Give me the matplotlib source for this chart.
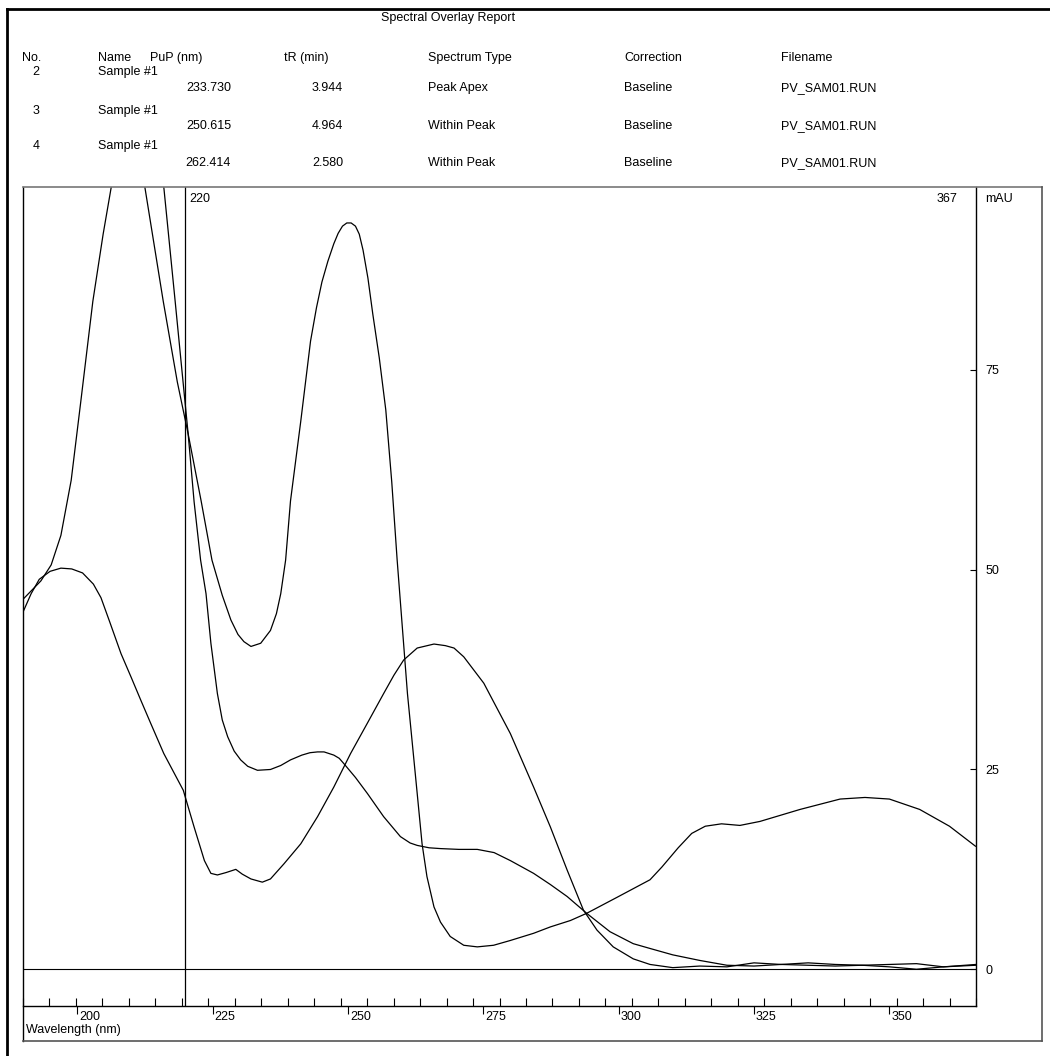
import numpy as np
import matplotlib.pyplot as plt
from matplotlib.lines import Line2D

plt.rcParams['font.family'] = ['Liberation Sans', 'DejaVu Sans']

# spectrum 2 (peak apex)
wl_2 = [190, 193.3, 195.2, 197.0, 198.9, 200.7, 202.9, 204.8, 206.3, 207.8, 209.4, 211.0, 212.5, 215.9,
        218.5, 220.5, 222.9, 224.9, 226.8, 228.4, 229.7, 230.8, 232.1, 233.9, 235.7, 236.8, 237.6, 238.5,
        239.4, 241.3, 243.1, 244.2, 245.2, 246.3, 247.4, 248.2, 249.0, 249.8, 250.6, 251.4, 252.1, 252.8,
        253.7, 254.6, 255.8, 257.0, 258.1, 259.1, 261.0, 262.8, 263.7, 264.6, 265.9, 267.1, 268.9, 271.4,
        273.9, 276.9, 280.0, 284.3, 287.4, 291.1, 294.1, 299.7, 305.8, 308.0, 311.0, 313.5, 316.0, 319.0,
        322.4, 326.1, 333.5, 340.9, 345.5, 350.0, 355.6, 361.1, 365.9]
mau_2 = [46.3, 48.6, 50.6, 54.3, 61.2, 71.2, 83.6, 92.0, 97.9, 102.5, 104.5, 102.5, 97.9, 83.6,
         73.5, 67.0, 58.6, 51.2, 46.8, 43.7, 41.9, 41.0, 40.4, 40.8, 42.4, 44.5, 47.0, 51.2,
         58.6, 68.6, 78.6, 82.8, 86.0, 88.6, 90.8, 92.1, 93.0, 93.4, 93.4, 93.0, 92.0, 90.0,
         86.5, 82.0, 76.5, 70.0, 61.0, 51.2, 34.5, 22.0, 15.7, 11.6, 7.8, 5.9, 4.1, 3.0,
         2.8, 3.0, 3.6, 4.5, 5.3, 6.1, 7.0, 9.0, 11.2, 12.8, 15.2, 17.0, 17.9, 18.2,
         18.0, 18.5, 20.0, 21.3, 21.5, 21.3, 20.0, 17.9, 15.4]

# spectrum 3
wl_3 = [190, 200, 207, 212, 216.0, 218.1, 220.5, 221.6, 222.8, 223.8, 224.7, 225.9, 226.8, 227.8, 229.0,
        230.2, 231.5, 233.3, 235.7, 237.6, 239.4, 241.5, 243.0, 244.4, 245.6, 247.4, 248.4, 249.3, 251.4,
        253.6, 256.6, 259.7, 261.5, 262.8, 265.0, 267.1, 270.5, 273.9, 277.0, 280.0, 284.3, 287.4, 290.5,
        294.1, 298.4, 302.7, 305.8, 310, 315, 320, 325, 330, 335, 340, 345, 350, 355, 360, 366]
mau_3 = [260, 200, 150, 118, 97.9, 83.6, 67.0, 58.5, 51.2, 47.0, 40.8, 34.5, 31.2, 29.1, 27.3,
         26.2, 25.4, 24.9, 25.0, 25.5, 26.2, 26.8, 27.1, 27.2, 27.2, 26.8, 26.4, 25.7, 24.0,
         22.0, 19.1, 16.6, 15.8, 15.5, 15.2, 15.1, 15.0, 15.0, 14.6, 13.6, 12.0, 10.6, 9.1,
         7.0, 4.7, 3.2, 2.6, 1.8, 1.1, 0.5, 0.4, 0.6, 0.8, 0.6, 0.5, 0.3, 0.0, 0.3, 0.6]

# spectrum 4
wl_4 = [190, 191.5, 193.0, 195.0, 197.0, 199.0, 201.0, 203.0, 204.4, 206.0, 208.1, 210.0, 211.8, 213.6,
        216.0, 219.6, 221.6, 223.5, 224.7, 225.9, 227.5, 229.3, 230.5, 232.1, 234.2, 235.7, 238.2, 241.3,
        244.4, 247.4, 250.5, 253.6, 256.6, 258.5, 260.3, 262.8, 265.9, 268.0, 269.6, 271.4, 275.1, 280.0,
        284.3, 287.4, 290.5, 293.5, 296.0, 299.0, 302.7, 305.8, 310, 315, 320, 325, 330, 335, 340, 345,
        350, 355, 360, 366]
mau_4 = [44.7, 47.0, 48.8, 49.8, 50.2, 50.1, 49.6, 48.2, 46.5, 43.5, 39.5, 36.5, 33.6, 30.75,
         27.0, 22.4, 17.8, 13.6, 12.0, 11.8, 12.1, 12.5, 11.9, 11.3, 10.9, 11.3, 13.2, 15.7,
         19.1, 22.8, 27.0, 30.8, 34.5, 36.8, 38.7, 40.2, 40.7, 40.5, 40.2, 39.1, 35.8, 29.5,
         22.8, 17.8, 12.4, 7.4, 4.9, 2.8, 1.3, 0.6, 0.2, 0.4, 0.3, 0.8, 0.6, 0.5, 0.4, 0.5,
         0.6, 0.7, 0.3, 0.5]

x_labels = [200, 225, 250, 275, 300, 325, 350]
y_ticks = [0, 25, 50, 75]

header = ['No.', 'Name', 'PuP (nm)', 'tR (min)', 'Spectrum Type', 'Correction', 'Filename']
row_no = ['2', '3', '4']
row_name = ['Sample #1', 'Sample #1', 'Sample #1']
row_pup = ['233.730', '250.615', '262.414']
row_tr = ['3.944', '4.964', '2.580']
row_type = ['Peak Apex', 'Within Peak', 'Within Peak']
row_corr = ['Baseline', 'Baseline', 'Baseline']
row_file = ['PV_SAM01.RUN', 'PV_SAM01.RUN', 'PV_SAM01.RUN']

W, H = 1050, 1056


def fx(x):
    return x / W


def fy(y):
    return 1 - y / H


fig = plt.figure(figsize=(W / 100, H / 100), dpi=100)
ax = fig.add_axes([fx(23), fy(1006), fx(976) - fx(23), fy(187) - fy(1006)])

for wl, mau in [(wl_2, mau_2), (wl_3, mau_3), (wl_4, mau_4)]:
    ax.plot(wl, mau, color='black', lw=0.9)

ax.axhline(0, color='black', lw=0.8)
ax.axvline(220, color='black', lw=0.9)

ax.set_xlim(190, 366)
ax.set_ylim(-4.6, 97.9)

ax.set_xticks(x_labels)
ax.set_xticklabels([])
ax.set_xticks(np.linspace(190, 366, 37), minor=True)
ax.tick_params(axis='x', which='major', direction='out', length=6, width=0.8)
ax.tick_params(axis='x', which='minor', direction='in', length=6, width=0.8)
for t in x_labels:
    ax.annotate(str(t), xy=(t, 0), xycoords=('data', 'axes fraction'), xytext=(2, -5),
                textcoords='offset pixels', ha='left', va='top', fontsize=9, annotation_clip=False)

ax.yaxis.tick_right()
ax.set_yticks(y_ticks)
ax.set_yticklabels([str(t) for t in y_ticks])
ax.tick_params(axis='y', direction='in', length=4, width=0.8, pad=7, labelsize=9)

ax.spines['top'].set_visible(False)
ax.spines['left'].set_visible(False)
ax.spines['right'].set_linewidth(1.0)
ax.spines['bottom'].set_linewidth(1.0)

ax.annotate('220', xy=(220, 1), xycoords=('data', 'axes fraction'), xytext=(4, -6),
            textcoords='offset pixels', ha='left', va='top', fontsize=9)
ax.annotate('367', xy=(1, 1), xycoords='axes fraction', xytext=(-19, -6),
            textcoords='offset pixels', ha='right', va='top', fontsize=9)
ax.annotate('mAU', xy=(1, 1), xycoords='axes fraction', xytext=(9, -6),
            textcoords='offset pixels', ha='left', va='top', fontsize=9, annotation_clip=False)

fig.text(fx(26), fy(1030), 'Wavelength (nm)', ha='left', va='center', fontsize=9)

# frame around plot area
fig.add_artist(Line2D([fx(23), fx(23)], [fy(187), fy(1041)], color='black', lw=1.0))
fig.add_artist(Line2D([fx(23), fx(1042)], [fy(187), fy(187)], color='#777777', lw=1.2))
fig.add_artist(Line2D([fx(1042), fx(1042)], [fy(187), fy(1041)], color='#555555', lw=1.2))
fig.add_artist(Line2D([fx(23), fx(1042)], [fy(1041), fy(1041)], color='#555555', lw=1.2))

# page frame
fig.add_artist(Line2D([fx(7), fx(7)], [fy(9), fy(1056)], color='black', lw=2))
fig.add_artist(Line2D([fx(7), fx(1050)], [fy(9), fy(9)], color='black', lw=2))

# report header
fig.text(fx(448), fy(18), 'Spectral Overlay Report', ha='center', va='center', fontsize=9)
for x, s in zip([22, 98, 150, 284, 428, 624, 781], header):
    fig.text(fx(x), fy(58), s, ha='left', va='center', fontsize=9)

for i, (y1, y2) in enumerate([(72, 88), (111, 126), (146, 163)]):
    fig.text(fx(36), fy(y1), row_no[i], ha='center', va='center', fontsize=9)
    fig.text(fx(98), fy(y1), row_name[i], ha='left', va='center', fontsize=9)
    fig.text(fx(231), fy(y2), row_pup[i], ha='right', va='center', fontsize=9)
    fig.text(fx(343), fy(y2), row_tr[i], ha='right', va='center', fontsize=9)
    fig.text(fx(428), fy(y2), row_type[i], ha='left', va='center', fontsize=9)
    fig.text(fx(624), fy(y2), row_corr[i], ha='left', va='center', fontsize=9)
    fig.text(fx(781), fy(y2), row_file[i], ha='left', va='center', fontsize=9)

plt.savefig('out.png', dpi=100)
